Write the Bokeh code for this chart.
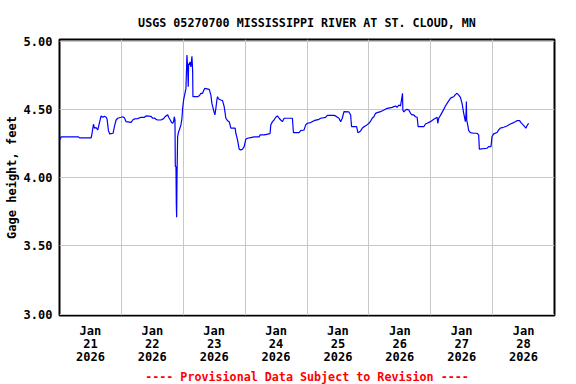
from bokeh.plotting import figure
from bokeh.models import Range1d, FixedTicker, Title, PrintfTickFormatter
from bokeh.embed import file_html
from bokeh.resources import INLINE

title_text = "USGS 05270700 MISSISSIPPI RIVER AT ST. CLOUD, MN"
y_label = "Gage height, feet"
footer = "---- Provisional Data Subject to Revision ----"

# hours since 2026-01-21 00:00
hours = [
    0.00, 0.66, 7.37, 7.75, 12.27, 12.53, 13.17, 13.56, 14.21, 14.85,
    15.50, 16.14, 16.79, 17.43, 18.08, 18.47, 18.98, 19.50, 20.79, 21.30,
    21.95, 22.60, 23.88, 24.53, 25.17, 25.82, 27.76, 28.40, 29.05, 30.34,
    31.63, 32.92, 33.56, 35.50, 36.14, 36.79, 37.43, 38.08, 39.37, 40.40,
    40.92, 41.30, 41.95, 42.34, 42.98, 43.50, 43.89, 44.27, 44.53, 44.79,
    44.92, 45.18, 45.31, 45.44, 45.57, 45.82, 46.21, 46.47, 47.11, 47.50,
    47.76, 48.14, 48.66, 49.05, 49.43, 49.69, 49.95, 50.08, 50.34, 50.60,
    50.98, 51.37, 51.63, 51.76, 53.56, 54.21, 54.85, 55.50, 56.14, 56.40,
    58.08, 58.72, 59.11, 59.76, 60.27, 60.66, 61.05, 61.30, 61.56, 61.95,
    62.59, 63.24, 63.88, 64.53, 65.18, 65.82, 66.47, 68.14, 68.40, 69.05,
    69.69, 70.34, 70.98, 71.63, 72.27, 72.92, 74.21, 75.50, 77.43, 77.82,
    79.37, 81.30, 81.69, 81.95, 82.60, 83.24, 83.88, 84.53, 85.18, 85.82,
    86.47, 87.11, 90.34, 90.73, 92.92, 93.56, 94.85, 95.50, 96.14, 97.43,
    98.72, 100.66, 101.30, 103.24, 103.88, 106.47, 107.11, 107.76, 108.40, 109.05,
    109.69, 110.34, 112.27, 112.92, 113.30, 115.24, 115.76, 116.14, 116.79, 117.43,
    118.08, 119.37, 120.01, 120.66, 121.30, 121.95, 122.60, 123.24, 124.53, 125.82,
    127.11, 129.05, 129.69, 130.34, 130.98, 131.63, 132.27, 132.66, 133.05, 133.18,
    133.56, 134.21, 134.85, 135.50, 136.14, 136.79, 137.43, 138.08, 138.72, 139.11,
    141.30, 141.95, 142.60, 143.88, 145.17, 145.82, 146.47, 146.72, 147.11, 147.76,
    149.05, 149.69, 150.34, 151.63, 152.27, 152.92, 153.56, 154.21, 154.85, 155.50,
    156.14, 156.79, 157.05, 157.43, 157.69, 157.82, 157.95, 158.34, 158.72, 159.37,
    160.66, 161.95, 162.59, 162.85, 165.82, 166.46, 167.37, 167.76, 168.40, 169.69,
    170.33, 170.98, 172.27, 173.56, 174.85, 176.14, 176.79, 177.43, 178.47, 178.98,
    180.01, 180.92, 181.30, 181.95,
]

gage_ft = [
    4.278, 4.300, 4.300, 4.293, 4.293, 4.315, 4.393, 4.364, 4.368, 4.351,
    4.405, 4.454, 4.444, 4.451, 4.444, 4.429, 4.346, 4.322, 4.327, 4.375,
    4.424, 4.437, 4.444, 4.448, 4.441, 4.412, 4.407, 4.424, 4.432, 4.434,
    4.444, 4.444, 4.454, 4.451, 4.437, 4.439, 4.429, 4.424, 4.424, 4.434,
    4.448, 4.454, 4.463, 4.444, 4.424, 4.405, 4.400, 4.412, 4.448, 4.424,
    4.083, 4.083, 3.800, 3.710, 3.985, 4.302, 4.339, 4.351, 4.388, 4.437,
    4.510, 4.571, 4.620, 4.656, 4.900, 4.814, 4.668, 4.839, 4.827, 4.851,
    4.814, 4.892, 4.790, 4.595, 4.595, 4.602, 4.620, 4.620, 4.649, 4.656,
    4.649, 4.607, 4.546, 4.497, 4.461, 4.510, 4.571, 4.595, 4.583, 4.576,
    4.571, 4.566, 4.522, 4.437, 4.419, 4.412, 4.364, 4.364, 4.327, 4.278,
    4.210, 4.205, 4.210, 4.229, 4.283, 4.290, 4.295, 4.300, 4.300, 4.315,
    4.315, 4.322, 4.327, 4.388, 4.412, 4.424, 4.444, 4.454, 4.437, 4.424,
    4.412, 4.437, 4.437, 4.332, 4.332, 4.346, 4.351, 4.388, 4.400, 4.405,
    4.419, 4.429, 4.437, 4.444, 4.458, 4.458, 4.454, 4.444, 4.437, 4.412,
    4.437, 4.485, 4.483, 4.461, 4.375, 4.375, 4.332, 4.334, 4.344, 4.364,
    4.375, 4.390, 4.400, 4.415, 4.437, 4.448, 4.473, 4.478, 4.485, 4.497,
    4.510, 4.517, 4.522, 4.527, 4.517, 4.534, 4.527, 4.571, 4.620, 4.497,
    4.483, 4.497, 4.502, 4.497, 4.473, 4.461, 4.461, 4.448, 4.444, 4.375,
    4.375, 4.395, 4.400, 4.412, 4.429, 4.437, 4.444, 4.400, 4.437, 4.458,
    4.502, 4.527, 4.546, 4.583, 4.590, 4.595, 4.610, 4.620, 4.607, 4.590,
    4.546, 4.473, 4.448, 4.412, 4.473, 4.559, 4.424, 4.388, 4.346, 4.332,
    4.327, 4.327, 4.315, 4.210, 4.217, 4.229, 4.229, 4.302, 4.322, 4.332,
    4.351, 4.364, 4.371, 4.380, 4.395, 4.405, 4.412, 4.419, 4.419, 4.405,
    4.385, 4.364, 4.380, 4.400,
]

day_labels = ["21", "22", "23", "24", "25", "26", "27", "28"]
month_label = "Jan"
year_label = "2026"
label_hours = [12 + 24 * i for i in range(len(day_labels))]
midnight_hours = [24 * i for i in range(1, len(day_labels))]
y_ticks = [3.0, 3.5, 4.0, 4.5, 5.0]

FONT = "DejaVu Sans Mono"

p = figure(width=576, height=384, output_backend="svg", toolbar_location=None,
           x_range=Range1d(0, 192), y_range=Range1d(2.990, 5.0146),
           min_border_left=58, min_border_right=22, min_border_top=39,
           min_border_bottom=68)

p.background_fill_color = "white"
p.border_fill_color = "white"
p.outline_line_color = "black"
p.outline_line_width = 2

p.title.text = title_text
p.title.align = "center"
p.title.text_font = FONT
p.title.text_font_size = "11.7px"
p.title.text_font_style = "bold"
p.title.text_color = "black"
p.title.standoff = 20

p.line(hours, gage_ft, line_color="#0000ff", line_width=1.2)

xa = p.xaxis[0]
xa.ticker = FixedTicker(ticks=label_hours)
xa.major_label_overrides = {h: f"{month_label}\n{d}\n{year_label}" for h, d in zip(label_hours, day_labels)}
xa.major_label_text_font = FONT
xa.major_label_text_font_size = "12px"
xa.major_label_text_font_style = "bold"
xa.major_label_text_color = "black"
xa.major_label_text_line_height = 0.96
xa.major_label_standoff = 8
xa.major_tick_out = 0
xa.major_tick_in = 0
xa.minor_tick_out = 0
xa.minor_tick_in = 0
xa.major_tick_line_color = None
xa.minor_tick_line_color = None
xa.axis_line_color = None

ya = p.yaxis[0]
ya.ticker = FixedTicker(ticks=y_ticks)
ya.formatter = PrintfTickFormatter(format="%.2f")
ya.major_label_text_font = FONT
ya.major_label_text_font_size = "12px"
ya.major_label_text_font_style = "bold"
ya.major_label_text_color = "black"
ya.major_label_standoff = 7
ya.major_tick_out = 0
ya.major_tick_in = 0
ya.minor_tick_out = 0
ya.minor_tick_in = 0
ya.major_tick_line_color = None
ya.minor_tick_line_color = None
ya.axis_line_color = None

p.xgrid.ticker = FixedTicker(ticks=midnight_hours)
p.xgrid.grid_line_color = "#c8c8c8"
p.xgrid.grid_line_width = 1
p.ygrid.ticker = FixedTicker(ticks=y_ticks)
p.ygrid.grid_line_color = "#c8c8c8"
p.ygrid.grid_line_width = 1

p.add_layout(Title(text=y_label, align="center", offset=-5, standoff=4,
                   text_font=FONT, text_font_size="12px", text_font_style="bold",
                   text_color="black"), "left")

p.add_layout(Title(text=footer, align="center", standoff=1,
                   text_font=FONT, text_font_size="11.7px", text_font_style="bold",
                   text_color="#ff0000"), "below")

open("out.html", "w").write(file_html(p, INLINE))
